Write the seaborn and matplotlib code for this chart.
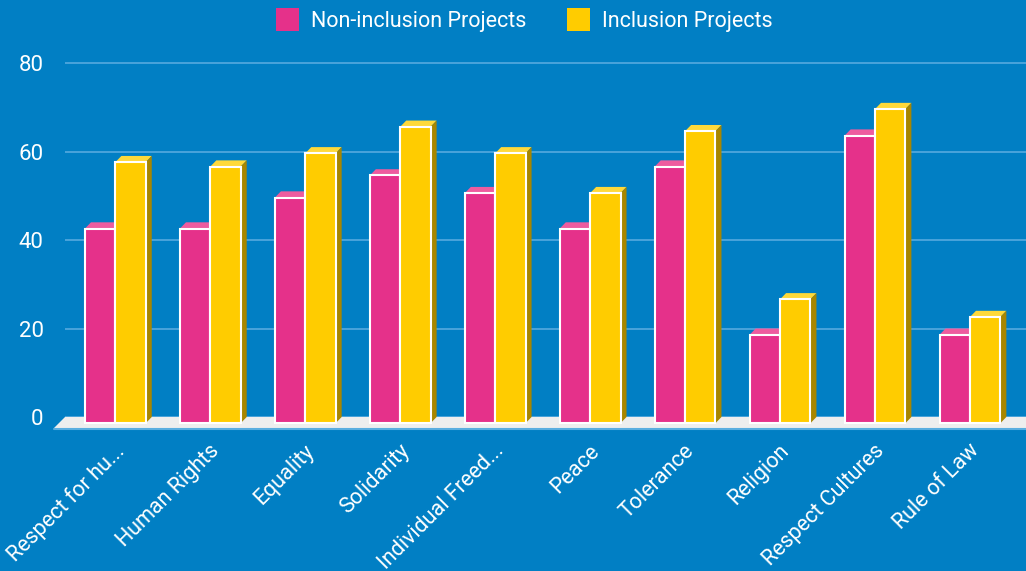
import seaborn as sns
import pandas as pd
import matplotlib.pyplot as plt
import matplotlib.transforms as mtransforms
from matplotlib.patches import Polygon, Patch

categories = ["Respect for hu...", "Human Rights", "Equality", "Solidarity",
              "Individual Freed...", "Peace", "Tolerance", "Religion",
              "Respect Cultures", "Rule of Law"]
series = ["Non-inclusion Projects", "Inclusion Projects"]
non_inclusion = [44, 44, 51, 56, 52, 44, 58, 20, 65, 20]
inclusion = [59, 58, 61, 67, 61, 52, 66, 28, 71, 24]

df = pd.DataFrame({
    "category": categories * 2,
    "value": non_inclusion + inclusion,
    "series": [series[0]] * len(categories) + [series[1]] * len(categories),
})

BG = "#017fc4"
PINK = "#e5318a"
YELLOW = "#ffcc00"
tops = {PINK: "#ee5c9f", YELLOW: "#ffd93a"}
sides = {PINK: "#a81f62", YELLOW: "#a88600"}
GRID = "#4fa6dd"

sns.set_style("ticks")
plt.rcParams["font.family"] = ["Roboto", "DejaVu Sans"]

fig = plt.figure(figsize=(10.26, 5.71), dpi=100, facecolor=BG)
ax = fig.add_axes([0.0634, 0.2426, 0.9366, 0.6625])
ax.set_facecolor(BG)

sns.barplot(data=df, x="category", y="value", hue="series",
            palette=[PINK, YELLOW], width=0.64, saturation=1,
            edgecolor="white", linewidth=1.5, legend=False, ax=ax, zorder=3)

# fake 3d: shift fronts down, add top and side faces behind
D = 1.4      # depth in y units
DX = 0.063   # depth in x units
for cont, col in zip(ax.containers, [PINK, YELLOW]):
    for bar in cont:
        x0 = bar.get_x()
        w = bar.get_width()
        h = bar.get_height()
        bar.set_y(-D)
        top = h - D
        x1 = x0 + w
        ax.add_patch(Polygon([(x0, top), (x1, top), (x1 + DX, top + D), (x0 + DX, top + D)],
                             closed=True, facecolor=tops[col], edgecolor="none", zorder=2))
        ax.add_patch(Polygon([(x1, -D), (x1, top), (x1 + DX, top + D), (x1 + DX, 0)],
                             closed=True, facecolor=sides[col], edgecolor="none", zorder=2))

# floor slab
ax.add_patch(Polygon([(-0.53, 0), (9.7, 0), (9.7, -2.5), (-0.646, -2.5)], closed=True,
                     facecolor="#eeeeee", edgecolor="none", zorder=1.5, clip_on=False))
ax.plot([-0.646, 9.7], [-2.75, -2.75], color="#5aaee0", lw=1.5, zorder=1.5, clip_on=False)

ax.set_xlim(-0.53, 9.59)
ax.set_ylim(-3.5, 82)
ax.set_yticks([0, 20, 40, 60, 80])
ax.yaxis.grid(True, color=GRID, lw=1.3)
ax.set_axisbelow(True)
for s in ax.spines.values():
    s.set_visible(False)
ax.tick_params(axis="both", length=0, colors="white")
ax.tick_params(axis="y", pad=15.5, labelsize=16)
ax.tick_params(axis="x", pad=11, labelsize=15.5)
ax.set_xlabel("")
ax.set_ylabel("")

offset = mtransforms.ScaledTranslation(6 / 100, 0, fig.dpi_scale_trans)
for lab in ax.get_xticklabels():
    lab.set_rotation(45)
    lab.set_ha("right")
    lab.set_va("center")
    lab.set_rotation_mode("anchor")
    lab.set_transform(lab.get_transform() + offset)

handles = [Patch(facecolor=PINK, edgecolor="none"), Patch(facecolor=YELLOW, edgecolor="none")]
fig.legend(handles, series, loc="upper center", bbox_to_anchor=(0.511, 1.02), ncol=2,
           frameon=False, fontsize=15.5, labelcolor="white", handlelength=1.05,
           handleheight=1.25, handletextpad=0.55, columnspacing=1.9)

fig.savefig("out.png", dpi=100, facecolor=BG)
